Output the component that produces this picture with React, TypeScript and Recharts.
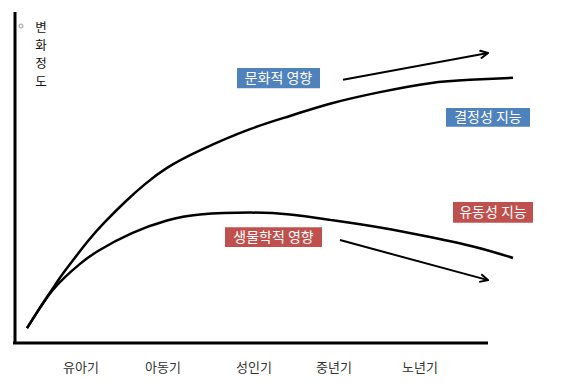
import {
  Label,
  Line,
  LineChart,
  ReferenceArea,
  ReferenceLine,
  XAxis,
  YAxis,
} from "recharts";

// 생애 단계 (x축)
const stageTicks = [13.2, 29.6, 47.8, 63.8, 81];
const stageLabels = ["유아기", "아동기", "성인기", "중년기", "노년기"];

// 결정성 지능 곡선
const crystalX = [2.4, 4.2, 6, 8, 10, 14.6, 18, 22, 26, 30.4, 37, 47, 55, 63, 73, 83, 91, 99.6];
const crystalY = [4.5, 8.8, 13, 17.5, 21.8, 30.8, 36.6, 42.6, 48, 52.9, 58.2, 64.6, 68.6, 72.3, 75.8, 78.5, 79.5, 80.1];

// 유동성 지능 곡선
const fluidX = [2.4, 5, 7.4, 10, 13, 16.6, 23.4, 30.4, 37, 47, 55, 63, 73, 83, 92, 99.6];
const fluidY = [4.5, 10.6, 15.7, 19.9, 23.9, 27.8, 33.2, 37, 38.8, 39.4, 38.8, 37.2, 34.9, 32, 29, 25.7];

// 영향 화살표
const cultureArrowX = [65.6, 94.6];
const cultureArrowY = [79.5, 87.6];
const bioArrowX = [65, 94.6];
const bioArrowY = [31.1, 19];

const toPoints = (xs: number[], ys: number[]) =>
  xs.map((x, i) => ({ x, y: ys[i] }));

const BLUE = "#4f81bd";
const RED = "#c0504d";
const FONT = "'Noto Sans CJK KR', sans-serif";

const boxLabel = (text: string) => (
  <Label
    value={text}
    position="center"
    fill="#fff"
    fontSize={14}
    fontFamily={FONT}
  />
);

const AxisTitle = (props: any) => {
  const vb = props.viewBox || {};
  const cx = (vb.x || 0) + (vb.width || 0) + 26;
  const chars = ["변", "화", "정", "도"];
  return (
    <g>
      <circle cx={21} cy={26} r={2} fill="none" stroke="#999" strokeWidth={1} />
      {chars.map((c, i) => (
        <text
          key={c}
          x={cx}
          y={32 + i * 18}
          textAnchor="middle"
          fontSize={12.5}
          fontFamily={FONT}
          fill="#111"
        >
          {c}
        </text>
      ))}
    </g>
  );
};

export default function App() {
  return (
    <div style={{ position: "fixed", left: 0, top: 0, background: "#fff" }}>
      <LineChart
        width={563}
        height={388}
        margin={{ top: 12, right: 23, bottom: 0, left: 0 }}
      >
        <defs>
          <marker
            id="arrowHead"
            viewBox="0 0 10 10"
            refX={9}
            refY={5}
            markerWidth={10}
            markerHeight={10}
            markerUnits="userSpaceOnUse"
            orient="auto"
          >
            <path d="M1,1 L9,5 L1,9" fill="none" stroke="#000" strokeWidth={2} />
          </marker>
        </defs>
        <XAxis
          type="number"
          dataKey="x"
          domain={[0, 105]}
          ticks={stageTicks}
          tickFormatter={(v: number) => stageLabels[stageTicks.indexOf(v)] ?? ""}
          axisLine={false}
          tickLine={false}
          tick={{ fill: "#333", fontSize: 13, fontFamily: FONT }}
          tickMargin={14}
          height={45}
          allowDataOverflow
        />
        <YAxis
          type="number"
          dataKey="y"
          domain={[0, 100]}
          width={15}
          tick={false}
          tickLine={false}
          axisLine={{ stroke: "#000", strokeWidth: 3 }}
        >
          <Label content={<AxisTitle />} />
        </YAxis>
        <ReferenceLine
          segment={[
            { x: -0.4, y: 0 },
            { x: 94.6, y: 0 },
          ]}
          stroke="#000"
          strokeWidth={3}
          ifOverflow="visible"
        />

        <ReferenceArea x1={44.4} x2={61} y1={77} y2={83.1} fill={BLUE} fillOpacity={1} stroke="none">
          {boxLabel("문화적 영향")}
        </ReferenceArea>
        <ReferenceArea x1={86.2} x2={103} y1={65.3} y2={71} fill={BLUE} fillOpacity={1} stroke="none">
          {boxLabel("결정성 지능")}
        </ReferenceArea>
        <ReferenceArea x1={87.6} x2={103.6} y1={36.3} y2={42.6} fill={RED} fillOpacity={1} stroke="none">
          {boxLabel("유동성 지능")}
        </ReferenceArea>
        <ReferenceArea x1={42} x2={61.4} y1={29} y2={35} fill={RED} fillOpacity={1} stroke="none">
          {boxLabel("생물학적 영향")}
        </ReferenceArea>

        <Line
          data={toPoints(crystalX, crystalY)}
          dataKey="y"
          type="natural"
          stroke="#000"
          strokeWidth={2.5}
          dot={false}
          activeDot={false}
          isAnimationActive={false}
        />
        <Line
          data={toPoints(fluidX, fluidY)}
          dataKey="y"
          type="natural"
          stroke="#000"
          strokeWidth={2.5}
          dot={false}
          activeDot={false}
          isAnimationActive={false}
        />
        <Line
          data={toPoints(cultureArrowX, cultureArrowY)}
          dataKey="y"
          type="linear"
          stroke="#000"
          strokeWidth={2}
          dot={false}
          activeDot={false}
          markerEnd="url(#arrowHead)"
          isAnimationActive={false}
        />
        <Line
          data={toPoints(bioArrowX, bioArrowY)}
          dataKey="y"
          type="linear"
          stroke="#000"
          strokeWidth={2}
          dot={false}
          activeDot={false}
          markerEnd="url(#arrowHead)"
          isAnimationActive={false}
        />
      </LineChart>
    </div>
  );
}
